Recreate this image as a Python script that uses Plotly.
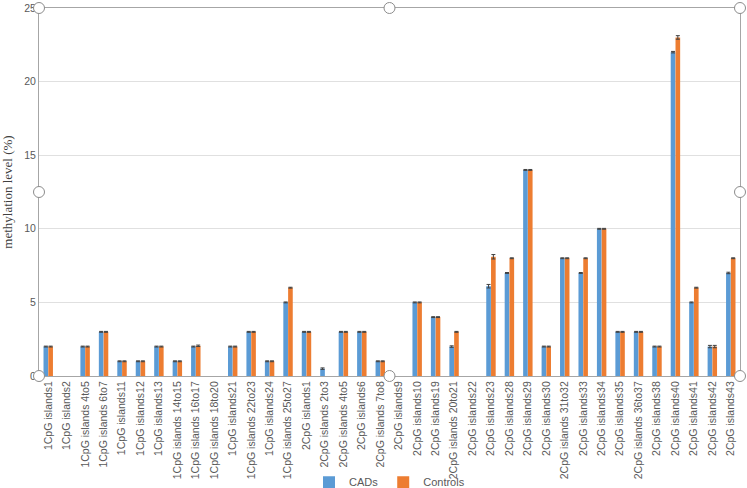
import plotly.graph_objects as go

# CpG sites along the x axis
categories = [
    '1CpG islands1', '1CpG islands2', '1CpG islands 4to5', '1CpG islands 6to7',
    '1CpG islands11', '1CpG islands12', '1CpG islands13', '1CpG islands 14to15',
    '1CpG islands 16to17', '1CpG islands 18to20', '1CpG islands21', '1CpG islands 22to23',
    '1CpG islands24', '1CpG islands 25to27', '2CpG islands1', '2CpG islands 2to3',
    '2CpG islands 4to5', '2CpG islands6', '2CpG islands 7to8', '2CpG islands9',
    '2CpG islands10', '2CpG islands19', '2CpG islands 20to21', '2CpG islands22',
    '2CpG islands23', '2CpG islands28', '2CpG islands29', '2CpG islands30',
    '2CpG islands 31to32', '2CpG islands33', '2CpG islands34', '2CpG islands35',
    '2CpG islands 36to37', '2CpG islands38', '2CpG islands40', '2CpG islands41',
    '2CpG islands42', '2CpG islands43',
]
# None = no bar shown for that site
cads = [2, None, 2, 3, 1, 1, 2, 1, 2, None, 2, 3, 1, 5, 3, 0.5, 3, 3, 1, None,
        5, 4, 2, None, 6.1, 7, 14, 2, 8, 7, 10, 3, 3, 2, 22, 5, 2, 7]
controls = [2, None, 2, 3, 1, 1, 2, 1, 2.05, None, 2, 3, 1, 6, 3, None, 3, 3, 1, None,
            5, 4, 3, None, 8.1, 8, 14, 2, 8, 8, 10, 3, 3, 2, 23, 6, 2, 8]
cads_err = [0.03, 0, 0.03, 0.03, 0.03, 0.03, 0.03, 0.03, 0.03, 0, 0.03, 0.03, 0.03, 0.03,
            0.03, 0.05, 0.03, 0.03, 0.03, 0, 0.03, 0.03, 0.05, 0, 0.12, 0.03, 0.03, 0.03,
            0.03, 0.03, 0.03, 0.03, 0.03, 0.03, 0.05, 0.03, 0.08, 0.05]
controls_err = [0.03, 0, 0.03, 0.03, 0.03, 0.03, 0.03, 0.03, 0.05, 0, 0.03, 0.03, 0.03, 0.03,
                0.03, 0, 0.03, 0.03, 0.03, 0, 0.03, 0.03, 0.03, 0, 0.15, 0.03, 0.03, 0.03,
                0.03, 0.03, 0.03, 0.03, 0.03, 0.03, 0.12, 0.03, 0.08, 0.03]

blue = '#5B9BD5'
orange = '#ED7D31'

fig = go.Figure()
fig.add_trace(go.Bar(x=categories, y=cads, name='CADs', marker=dict(color=blue, line=dict(width=0)),
                     error_y=dict(type='data', array=cads_err, color='#404040', thickness=1, width=2)))
fig.add_trace(go.Bar(x=categories, y=controls, name='Controls', marker=dict(color=orange, line=dict(width=0)),
                     error_y=dict(type='data', array=controls_err, color='#404040', thickness=1, width=2)))

fig.update_layout(
    template='none', width=747, height=488, barmode='group', bargap=0.48, bargroupgap=0.03,
    margin=dict(l=39, r=7, t=8, b=112), plot_bgcolor='white', paper_bgcolor='white',
    font=dict(family='Liberation Sans', color='#595959', size=10),
    legend=dict(orientation='h', x=0.5, xanchor='center', yref='container', y=0.012, yanchor='middle',
                bgcolor='rgba(0,0,0,0)', font=dict(size=11, color='#595959'), itemwidth=30,
                traceorder='normal'),
)
fig.update_xaxes(tickangle=-90, tickfont=dict(size=10.5), showline=True, mirror=True,
                 linecolor='#a6a6a6', linewidth=1, showgrid=False, automargin=False, ticks='')
fig.update_yaxes(range=[0, 25], dtick=5, showline=True, mirror=True, linecolor='#a6a6a6',
                 linewidth=1, gridcolor='#e0e0e0', zeroline=False, automargin=False, ticks='',
                 tickfont=dict(size=10.5),
                 title=dict(text='methylation level (%)', standoff=12,
                            font=dict(family='Liberation Serif', size=13, color='#404040')))

# selection handles around the plot area
for hx in (0, 0.5, 1):
    for hy in (0, 0.5, 1):
        if hx == 0.5 and hy == 0.5:
            continue
        fig.add_shape(type='circle', xref='paper', yref='paper', xsizemode='pixel', ysizemode='pixel',
                      xanchor=hx, yanchor=hy, x0=-5.5, x1=5.5, y0=-5.5, y1=5.5,
                      line=dict(color='#8c8c8c', width=1), fillcolor='white', layer='above')

fig.write_html("out.html", config={'displayModeBar': False},
               post_script="document.body.style.margin='0';")
